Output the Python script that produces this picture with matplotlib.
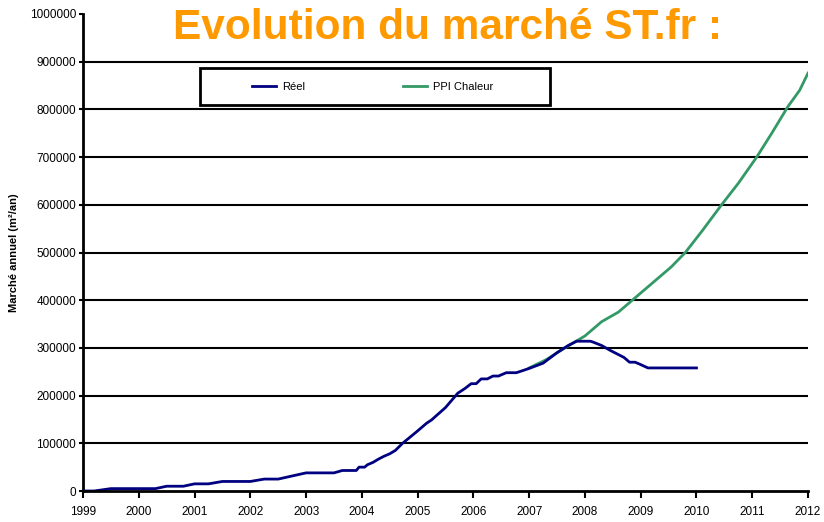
import matplotlib.pyplot as plt
from matplotlib.lines import Line2D
from matplotlib.patches import Rectangle

plt.rcParams['font.family'] = ['Liberation Sans', 'DejaVu Sans']

# Données
reel_years = [1999.0, 1999.2, 1999.5, 2000.0, 2000.3, 2000.5, 2000.8, 2001.0, 2001.25, 2001.5,
              2002.0, 2002.25, 2002.5, 2003.0, 2003.5, 2003.65, 2003.9, 2003.95, 2004.05, 2004.1,
              2004.2, 2004.3, 2004.4, 2004.5, 2004.6, 2004.73, 2004.98, 2005.16, 2005.25, 2005.5,
              2005.72, 2005.85, 2005.96, 2006.05, 2006.14, 2006.25, 2006.35, 2006.45, 2006.59, 2006.77,
              2006.9, 2007.0, 2007.25, 2007.5, 2007.7, 2007.85, 2008.1, 2008.15, 2008.3, 2008.45,
              2008.7, 2008.8, 2008.9, 2009.0, 2009.13, 2010.0]
reel_vals = [0, 0, 5000, 5000, 5000, 10000, 10000, 15000, 15000, 20000,
             20000, 25000, 25000, 38000, 38000, 43000, 43000, 50000, 50000, 55000,
             60000, 67000, 73000, 78000, 85000, 100000, 124000, 142000, 149000, 175000,
             205000, 215000, 225000, 225000, 235000, 235000, 241000, 241000, 248000, 248000,
             253000, 257000, 268000, 290000, 305000, 314000, 314000, 312000, 305000, 295000,
             280000, 270000, 270000, 265000, 258000, 258000]

ppi_years = [2007.0, 2007.3, 2007.64, 2008.0, 2008.3, 2008.6, 2008.85, 2009.1, 2009.3, 2009.55,
             2009.8, 2010.1, 2010.45, 2010.75, 2011.08, 2011.35, 2011.64, 2011.85, 2012.0]
ppi_vals = [258000, 275000, 300000, 325000, 355000, 375000, 400000, 425000, 445000, 470000,
            500000, 545000, 600000, 645000, 700000, 750000, 806000, 840000, 876000]

year_ticks = list(range(1999, 2013))
y_ticks = list(range(0, 1000001, 100000))

W, H = 824, 522
fig = plt.figure(figsize=(W / 100, H / 100), dpi=100)
ax = fig.add_axes([83 / W, 1 - 491 / H, 725 / W, 477 / H])

for y in y_ticks[1:-1]:
    ax.axhline(y, color='black', lw=1.5, zorder=1)

ax.plot(ppi_years, ppi_vals, color='#339966', lw=2, zorder=3)
ax.plot(reel_years, reel_vals, color='#000080', lw=2, zorder=4)

ax.set_xlim(1999, 2012)
ax.set_ylim(0, 1000000)
ax.set_xticks(year_ticks)
ax.set_yticks(y_ticks)
ax.set_yticklabels([str(v) for v in y_ticks])
ax.tick_params(axis='both', labelsize=8.5, width=1.5, color='black')
ax.tick_params(axis='x', length=5, pad=6)
ax.tick_params(axis='y', length=3, pad=2)

for s in ['top', 'right']:
    ax.spines[s].set_visible(False)
for s in ['left', 'bottom']:
    ax.spines[s].set_linewidth(2)
ax.spines['bottom'].set_zorder(5)

ax.set_ylabel('Marché annuel (m²/an)', fontsize=8, fontweight='bold', labelpad=8)

fig.text(448 / W, 1 - 39 / H, 'Evolution du marché ST.fr :', color='#FF9900', fontsize=30.5,
         fontweight='bold', ha='center', va='baseline')

# cadre de la légende
fig.patches.append(Rectangle((200 / W, 1 - 105 / H), 350 / W, 37 / H, transform=fig.transFigure,
                             facecolor='white', edgecolor='black', lw=2, zorder=5))

handles = [Line2D([], [], color='#000080', lw=2), Line2D([], [], color='#339966', lw=2)]
leg = fig.legend(handles, ['Réel', 'PPI Chaleur'], ncol=2, fontsize=8,
                 bbox_to_anchor=(373 / W, 1 - 87 / H), loc='center', frameon=False,
                 handlelength=2.1, handletextpad=0.6, columnspacing=8.8)
leg.set_zorder(6)

fig.savefig('out.png', dpi=100)
